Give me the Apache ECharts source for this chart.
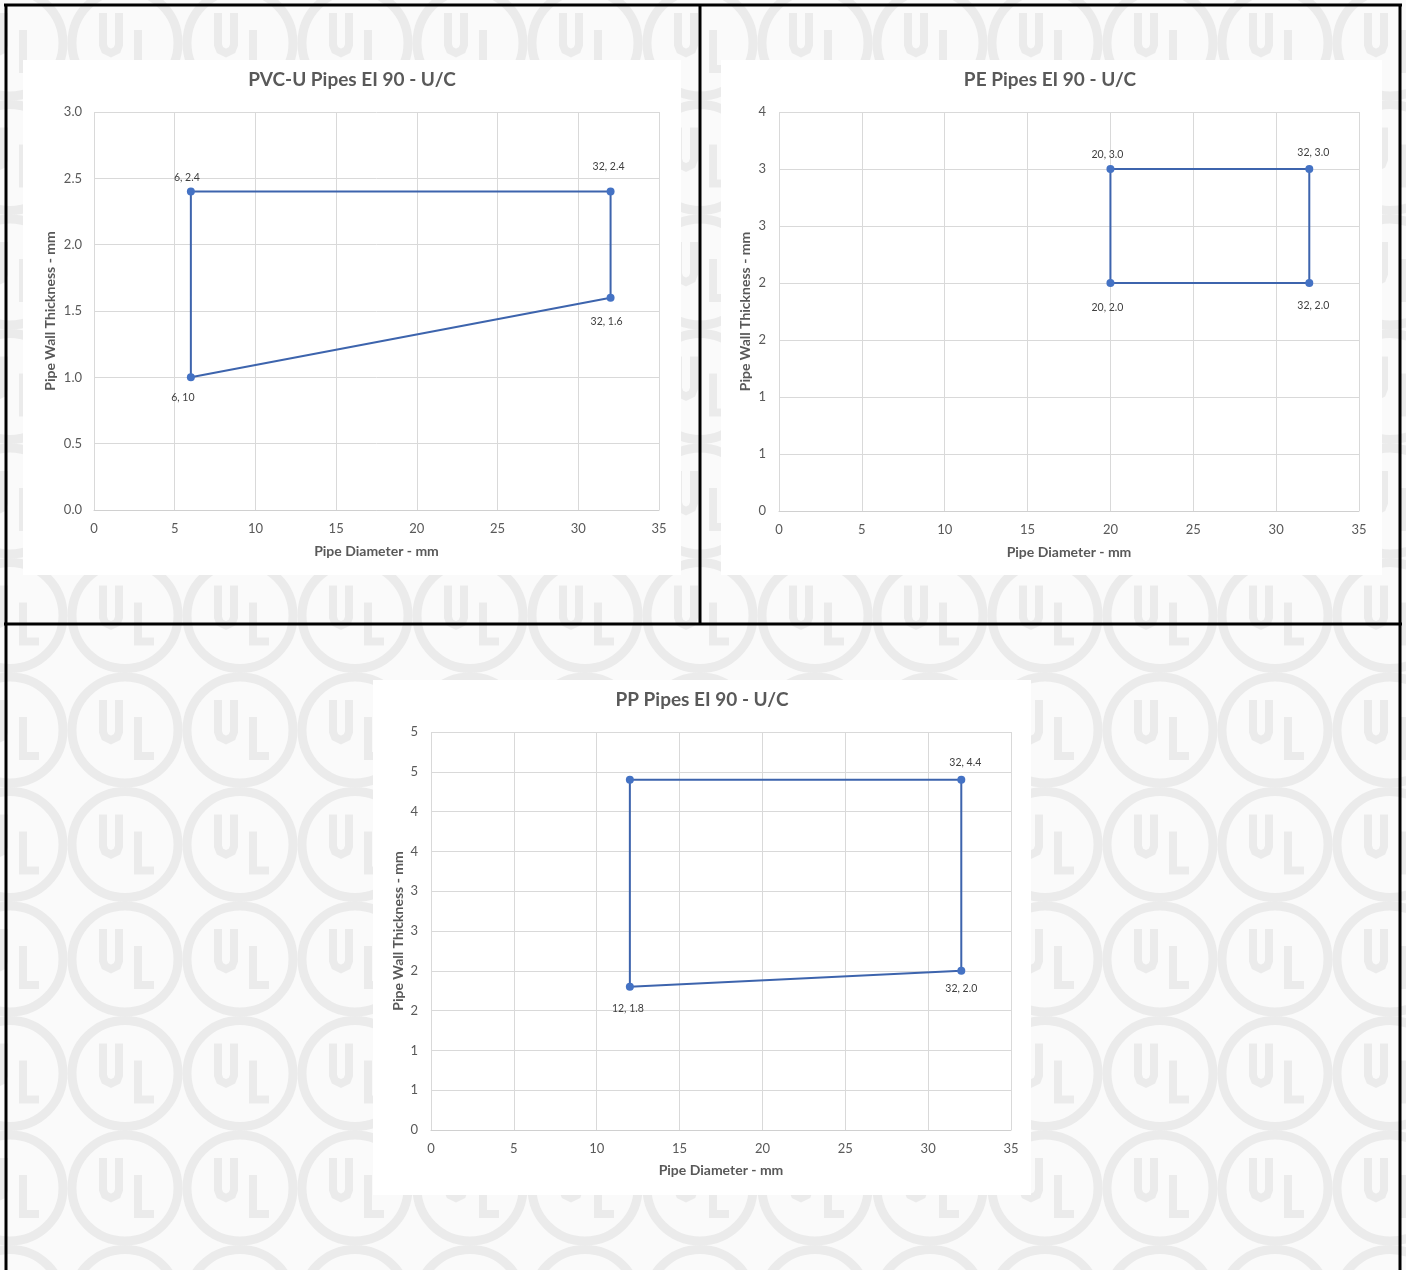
<!DOCTYPE html>
<html>
<head>
<meta charset="utf-8">
<script src="https://cdn.jsdelivr.net/npm/echarts@6/dist/echarts.min.js"></script>
<style>
  html, body { margin: 0; padding: 0; background: #ffffff; }
  #chart { width: 1406px; height: 1270px; }
</style>
</head>
<body>
<div id="chart"></div>
<script>
// ---------- DATA ----------
const chartTitles = ['PVC-U Pipes EI 90 - U/C', 'PE Pipes EI 90 - U/C', 'PP Pipes EI 90 - U/C'];
const xAxisName = 'Pipe Diameter - mm';
const yAxisName = 'Pipe Wall Thickness - mm';

// PVC-U (closed outline, in drawing order)
const pvcDiameter = [6, 6, 32, 32];
const pvcThickness = [1.0, 2.4, 2.4, 1.6];
const pvcLabels = ['6, 10', '6, 2.4', '32, 2.4', '32, 1.6'];

// PE
const peDiameter = [20, 20, 32, 32];
const peThickness = [2.0, 3.0, 3.0, 2.0];
const peLabels = ['20, 2.0', '20, 3.0', '32, 3.0', '32, 2.0'];

// PP
const ppDiameter = [12, 12, 32, 32];
const ppThickness = [1.8, 4.4, 4.4, 2.0];
const ppLabels = ['12, 1.8', '', '32, 4.4', '32, 2.0'];

// axis ticks
const xTickLabels = ['0', '5', '10', '15', '20', '25', '30', '35'];
const pvcYTickLabels = ['0.0', '0.5', '1.0', '1.5', '2.0', '2.5', '3.0'];
const peYTickLabels = ['0', '1', '1', '2', '2', '3', '3', '4'];
const ppYTickLabels = ['0', '1', '1', '2', '2', '3', '3', '4', '4', '5', '5'];

// ---------- STYLE ----------
const FONT = 'Lato, "Open Sans", sans-serif';
const TXT = '#595959';
const GRIDC = '#d9d9d9';
const LINEC = '#3d64ad';
const MARKC = '#4472c4';
const WM = '#ebebeb';

// label placement per point: [position, distance, dx]
const pvcLabelPos = [['bottom', 11, -8], ['top', 4, -4], ['top', 15, -2], ['bottom', 14, -4]];
const peLabelPos = [['bottom', 15, -3], ['top', 5, -3], ['top', 7, 4], ['bottom', 13, 4]];
const ppLabelPos = [['bottom', 12, -2], ['top', 8, 0], ['top', 8, 4], ['bottom', 8, 0]];

const grids = [
  { left: 94, top: 112, width: 565, height: 398 },
  { left: 779, top: 112, width: 580, height: 399 },
  { left: 431, top: 732, width: 580, height: 398 }
];
const titlePos = [[352, 70], [1050, 70], [702, 690]];
const yMax = [3.0, 3.5, 5.0];
const yTicks = [pvcYTickLabels, peYTickLabels, ppYTickLabels];
const yNameGap = [37, 27, 26];
const xNameGap = [34, 34, 33];

function buildSeries(xs, ys, labels, pos, idx) {
  const data = xs.map((x, i) => ({
    value: [x, ys[i]],
    label: {
      show: labels[i] !== '',
      formatter: labels[i],
      position: pos[i][0],
      distance: pos[i][1],
      offset: [pos[i][2], 0]
    }
  }));
  // close the outline back to the first point (no label, no marker)
  data.push({ value: [xs[0], ys[0]], label: { show: false }, symbolSize: 0 });
  return {
    type: 'line',
    xAxisIndex: idx,
    yAxisIndex: idx,
    data: data,
    symbol: 'circle',
    symbolSize: 8,
    showSymbol: true,
    lineStyle: { color: LINEC, width: 2 },
    itemStyle: { color: MARKC, borderWidth: 0 },
    label: { color: '#404040', fontFamily: FONT, fontSize: 10.5 },
    emphasis: { disabled: true },
    animation: false,
    z: 3
  };
}

// ---------- BACKGROUND GRAPHICS ----------
const graphics = [];
graphics.push({ type: 'rect', z: -20, shape: { x: 0, y: 0, width: 1406, height: 1270 }, style: { fill: '#fafafa' } });
const uPts = [[-8, -21], [-8, 11], [-6, 16], [0, 19], [6, 16], [8, 11], [8, -21]];
const lPts = [[-6, -21], [-6, 18], [10, 18]];
for (let r = 0; r < 12; r++) {
  for (let c = 0; c < 13; c++) {
    const cx = 10 + 115 * c;
    const cy = 43 + 114.5 * r;
    graphics.push({ type: 'circle', z: -19, shape: { cx: cx, cy: cy, r: 53 }, style: { fill: null, stroke: WM, lineWidth: 9 } });
    graphics.push({ type: 'polyline', z: -19,
      shape: { points: uPts.map(p => [cx - 14 + p[0], cy - 9 + p[1]]) },
      style: { fill: null, stroke: WM, lineWidth: 8 } });
    graphics.push({ type: 'polyline', z: -19,
      shape: { points: lPts.map(p => [cx + 19 + p[0], cy + 8 + p[1]]) },
      style: { fill: null, stroke: WM, lineWidth: 8 } });
  }
}
// white chart panels
[[23, 60, 658, 515], [721, 60, 661, 515], [373, 680, 658, 515]].forEach(p => {
  graphics.push({ type: 'rect', z: -10, shape: { x: p[0], y: p[1], width: p[2], height: p[3] }, style: { fill: '#ffffff' } });
});
// black frame lines
[[4, 5, 1402, 5], [6, 4, 6, 1270], [1400, 4, 1400, 1270], [700, 4, 700, 625], [4, 624, 1402, 624]].forEach(l => {
  graphics.push({ type: 'line', z: 50, shape: { x1: l[0], y1: l[1], x2: l[2], y2: l[3] }, style: { stroke: '#000000', lineWidth: 3 } });
});

// ---------- OPTION ----------
const option = {
  animation: false,
  backgroundColor: 'transparent',
  textStyle: { fontFamily: FONT },
  graphic: { elements: graphics },
  title: chartTitles.map((t, i) => ({
    text: t,
    left: titlePos[i][0],
    top: titlePos[i][1],
    padding: 0,
    textAlign: 'center',
    textStyle: { fontFamily: FONT, fontSize: 19, fontWeight: 'bold', color: TXT }
  })),
  grid: grids.map(g => Object.assign({ containLabel: false }, g)),
  xAxis: grids.map((g, i) => ({
    type: 'value',
    gridIndex: i,
    min: 0, max: 35, interval: 5,
    name: xAxisName,
    nameLocation: 'middle',
    nameGap: xNameGap[i],
    nameTextStyle: { fontFamily: FONT, fontSize: 14, fontWeight: 'bold', color: TXT },
    axisLine: { show: true, lineStyle: { color: '#d0d0d0', width: 1 } },
    axisTick: { show: false },
    axisLabel: { color: TXT, fontFamily: FONT, fontSize: 13, margin: 12,
      formatter: (v, idx) => xTickLabels[idx] },
    splitLine: { show: true, lineStyle: { color: GRIDC, width: 1 } }
  })),
  yAxis: grids.map((g, i) => ({
    type: 'value',
    gridIndex: i,
    min: 0, max: yMax[i], interval: 0.5,
    name: yAxisName,
    nameLocation: 'middle',
    nameGap: yNameGap[i],
    nameTextStyle: { fontFamily: FONT, fontSize: 14, fontWeight: 'bold', color: TXT },
    axisLine: { show: false },
    axisTick: { show: false },
    axisLabel: { color: TXT, fontFamily: FONT, fontSize: 13, margin: i === 0 ? 12 : 13,
      formatter: (v, idx) => yTicks[i][idx] },
    splitLine: { show: true, lineStyle: { color: GRIDC, width: 1 } }
  })),
  series: [
    buildSeries(pvcDiameter, pvcThickness, pvcLabels, pvcLabelPos, 0),
    buildSeries(peDiameter, peThickness, peLabels, peLabelPos, 1),
    buildSeries(ppDiameter, ppThickness, ppLabels, ppLabelPos, 2)
  ]
};

const chart = echarts.init(document.getElementById('chart'), null, { renderer: 'canvas' });
chart.setOption(option);
</script>
</body>
</html>
